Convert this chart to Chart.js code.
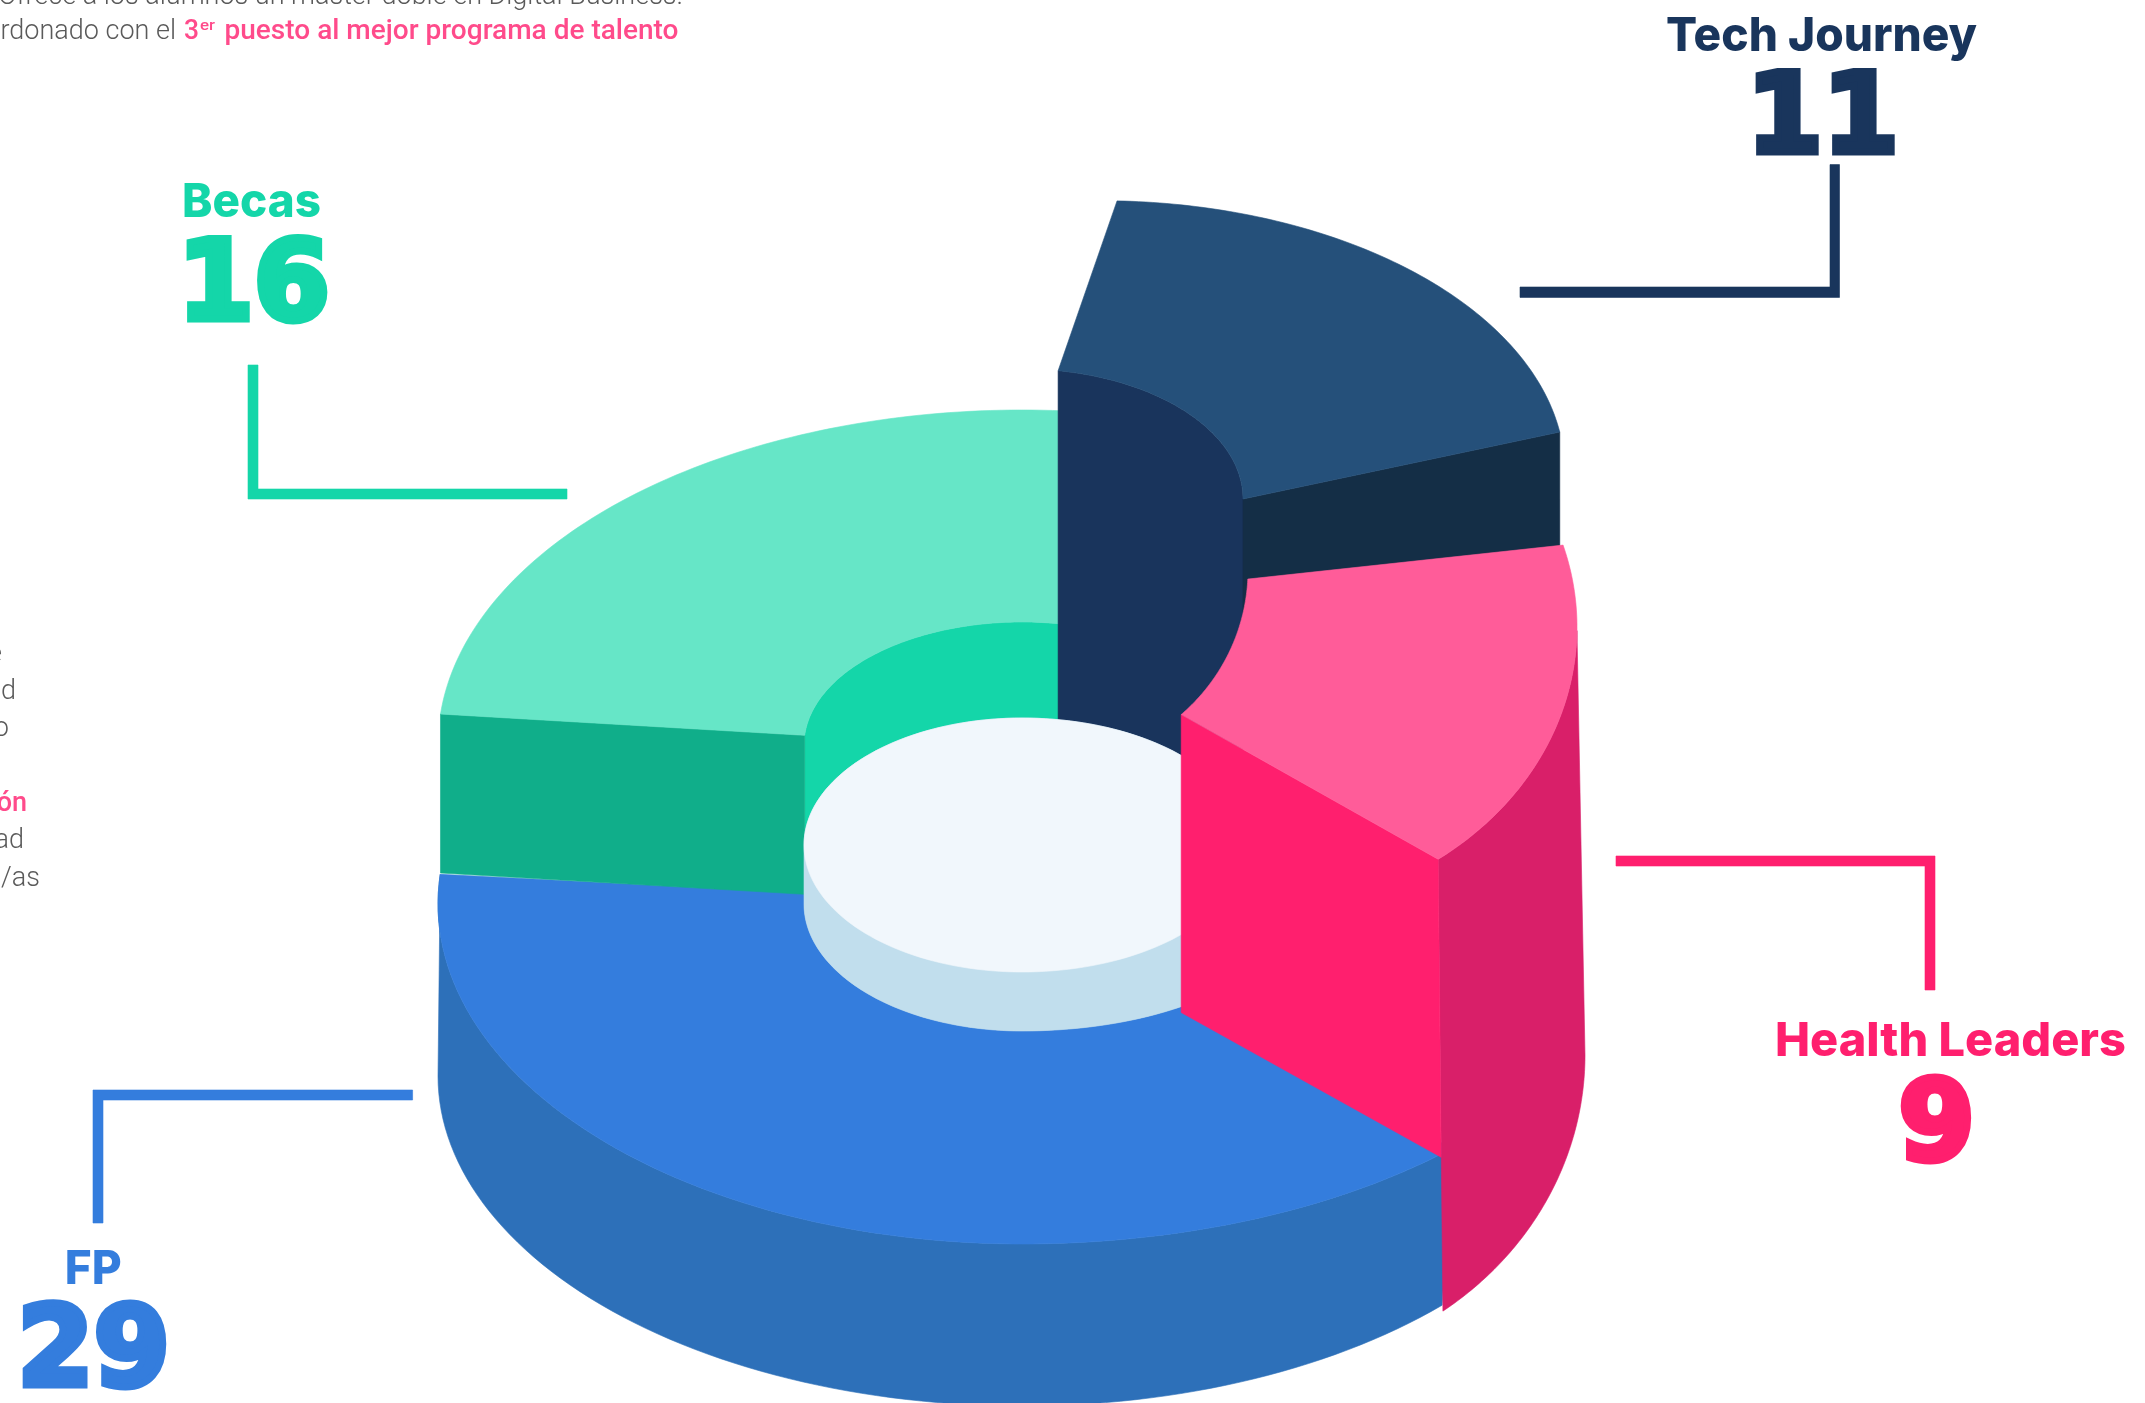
<!DOCTYPE html>
<html lang="es">
<head>
<meta charset="utf-8">
<title>Tech Journey, Health Leaders, FP, Becas</title>
<script src="https://cdn.jsdelivr.net/npm/chart.js@4"></script>
<style>
html,body{margin:0;padding:0;background:#fff;overflow:hidden}
#wrap{position:relative;width:2145px;height:1403px}
</style>
</head>
<body>
<div id="wrap"><canvas id="c" width="2145" height="1403"></canvas></div>
<script>
const categories = ['FP', 'Becas', 'Tech Journey', 'Health Leaders'];
const values = [29, 16, 11, 9];

const palette = [
  {top:'#347DDD', wall:'#2D70B9', label:'#347DDD'},
  {top:'#66E6C7', wall:'#14D6A9', face:'#10AE8A', label:'#14D6A9'},
  {top:'#25507A', wall:'#19345C', face:'#142E46', label:'#19355C'},
  {top:'#FF5C99', wall:'#D91F69', face:'#FF1F6E', label:'#FF1F6E'}
];

/* Isometric projection of each ring sector drawn by the doughnut controller:
   the library supplies each arc's angles, these ellipses project them. */
const projection = [
  {outer:{cx:1022,cy:904,rx:584,ry:340,kR:1.06,t0:46,t1:185},
   inner:{cx:1022,cy:904,rx:218,ry:127,kR:1.24,t0:52,t1:185},
   base:{cx:1022,cy:1076,rx:584,ry:330,t0:44,t1:180}},
  {outer:{cx:1022,cy:745,rx:584,ry:335,t0:185.3,t1:276},
   inner:{cx:1022,cy:745,rx:218,ry:123,t0:184.5,t1:286},
   faceAt:'start', faceDepth:159, innerDepth:159},
  {outer:{cx:1100,cy:472.7,rx:465,ry:272,t0:272.1,t1:351.4},
   inner:{cx:1022,cy:499,rx:221,ry:130,t0:279.4,t1:360},
   faceAt:'end', faceDepth:130, innerDepth:355},
  {outer:{cx:1247,cy:627,rx:330,ry:285,t0:-16.7,t1:54.6},
   inner:{cx:1050,cy:570,rx:198,ry:193,t0:2.7,t1:48.5},
   base:{cx:1245,cy:1055,rx:340,ry:315,t0:0,t1:54.4}, wallFrom:0,
   faceAt:'end', faceDepth:298, faceLean:3}
];
const hub = {
  top:{cx:1022,cy:845,rx:218,ry:127,kR:1.03}, rim:{cx:1022,cy:904,rx:218,ry:127,kR:1.24},
  topColor:'#F1F7FC', rimColor:'#C1DEED'
};
const leaders = [
  [[93,1223],[93,1090],[412.6,1090],[412.6,1100],[103,1100],[103,1223]],
  [[248,365],[258,365],[258,489],[567,489],[567,499],[248,499]],
  [[1520,287],[1830,287],[1830,164.6],[1839.5,164.6],[1839.5,297.4],[1520,297.4]],
  [[1616,856],[1935,856],[1935,990],[1925,990],[1925,866],[1616,866]]
];
const labelBoxes = [
  {name:[66.7,1284,54.3], num:[22,1388,145]},
  {name:[184,217,136], num:[186,322,142]},
  {name:[1667,51,310], num:[1755,155,140]},
  {name:[1777,1056,348], num:[1900,1162,72]}
];

const rad = d => d*Math.PI/180;
function onEllipse(e, deg){
  const c = Math.cos(rad(deg)), s = Math.sin(rad(deg));
  const k = c > 0 ? (e.kR || 1) : 1;
  return [e.cx + e.rx*k*c, e.cy + e.ry*s + (e.sk || 0)*c];
}
function sector(el, e, dy){
  const sweep = el.endAngle - el.startAngle, n = 90, pts = [];
  for(let i=0;i<=n;i++){
    const a = el.startAngle + sweep*i/n;
    const f = (a - el.startAngle)/sweep;
    const p = onEllipse(e, e.t0 + (e.t1-e.t0)*f);
    pts.push([p[0], p[1] + (dy || 0)]);
  }
  return pts;
}
function sectorFrom(el, e, from){
  const pts = sector(el, e, 0), keep = [];
  pts.forEach((p,i)=>{ if(e.t0 + (e.t1-e.t0)*i/(pts.length-1) >= from) keep.push(p); });
  return keep;
}
function fill(ctx, pts, color){
  ctx.beginPath();
  pts.forEach((p,i)=> i ? ctx.lineTo(p[0],p[1]) : ctx.moveTo(p[0],p[1]));
  ctx.closePath();
  ctx.fillStyle = color; ctx.strokeStyle = color; ctx.lineWidth = 0.6;
  ctx.fill(); ctx.stroke();
}
function fitText(ctx, str, x, y, width, font, color){
  ctx.save();
  ctx.font = font; ctx.fillStyle = color; ctx.textAlign = 'left'; ctx.textBaseline = 'alphabetic';
  const w = ctx.measureText(str).width;
  ctx.translate(x, y); ctx.scale(width/w, 1);
  ctx.fillText(str, 0, 0);
  ctx.restore();
}
/* Fits the inked extent of the text to a box; a stroke thickens the digits. */
function fitInk(ctx, str, x, y, width, font, color, weight){
  ctx.save();
  ctx.font = font; ctx.fillStyle = color; ctx.strokeStyle = color; ctx.textAlign = 'left'; ctx.textBaseline = 'alphabetic';
  ctx.lineJoin = 'miter'; ctx.lineWidth = weight || 0;
  const m = ctx.measureText(str);
  const ink = m.actualBoundingBoxRight + m.actualBoundingBoxLeft + (weight || 0);
  const sx = width/ink;
  ctx.translate(x, y - (weight || 0)/2); ctx.scale(sx, 1);
  ctx.translate(m.actualBoundingBoxLeft + (weight || 0)/2, 0);
  ctx.fillText(str, 0, 0);
  if(weight) ctx.strokeText(str, 0, 0);
  ctx.restore();
}
function drawSolid(ctx, els){
  const faceOf = (i) => {
    const P = projection[i], el = els[i];
    const o = sector(el, P.outer), n = sector(el, P.inner);
    const a = P.faceAt === 'start' ? o[0] : o[o.length-1];
    const b = P.faceAt === 'start' ? n[0] : n[n.length-1];
    const d = P.faceDepth;
    fill(ctx, [a,b,[b[0],b[1]+d],[a[0]+(P.faceLean||0),a[1]+d]], palette[i].face);
  };
  const topOf = (i) => {
    const P = projection[i], el = els[i];
    fill(ctx, sector(el,P.outer).concat(sector(el,P.inner).reverse()), palette[i].top);
  };
  const outerWall = (i) => {
    const P = projection[i], el = els[i];
    const up = P.wallFrom !== undefined ? sectorFrom(el,P.outer,P.wallFrom) : sector(el,P.outer);
    fill(ctx, up.concat(sector(el,P.base).reverse()), palette[i].wall);
  };
  const innerWall = (i) => {
    const P = projection[i], el = els[i];
    fill(ctx, sector(el,P.inner).concat(sector(el,P.inner,P.innerDepth).reverse()), palette[i].wall);
  };
  // back to front
  outerWall(0); topOf(0);
  innerWall(1); faceOf(1); topOf(1);
  innerWall(2); faceOf(2); topOf(2);
  // central hub
  const hull = [];
  for(let t=0;t<=180;t+=2) hull.push(onEllipse(hub.rim,t));
  for(let t=180;t<=360;t+=2) hull.push(onEllipse(hub.top,t));
  fill(ctx, hull, hub.rimColor);
  const disk = [];
  for(let t=0;t<360;t+=2) disk.push(onEllipse(hub.top,t));
  fill(ctx, disk, hub.topColor);
  outerWall(3); faceOf(3); topOf(3);
}
function drawAnnotations(ctx){
  categories.forEach((name,i)=>{
    fill(ctx, leaders[i], palette[i].label);
    const B = labelBoxes[i];
    fitInk(ctx, name, B.name[0], B.name[1], B.name[2], '800 47px Inter', palette[i].label);
    fitInk(ctx, String(values[i]), B.num[0], B.num[1], B.num[2], '700 111px "DejaVu Sans"', palette[i].label, 7);
  });
  const gray = '#5A5A5A', pink = '#FF4B8B';
  const light = '300 27px Roboto', strong = '500 27px Roboto';
  ctx.textBaseline = 'alphabetic';
  ctx.textAlign = 'right'; ctx.font = light; ctx.fillStyle = gray;
  ctx.fillText('Ofrece a los alumnos un máster doble en Digital Business.', 683, 4);
  ctx.fillText('Galardonado con el', 176, 39);
  ctx.fillText('e', 2, 662);
  ctx.fillText('ad', 16, 699);
  ctx.fillText('o', 9, 736);
  ctx.fillText('ad', 24, 848);
  ctx.fillText('s/as', 40, 886);
  ctx.font = strong; ctx.fillStyle = pink;
  ctx.fillText('ón', 27, 811);
  fitText(ctx, '3', 184, 39, 15, strong, pink);
  fitText(ctx, 'er', 200, 30, 15, '500 15px Roboto', pink);
  fitText(ctx, 'puesto al mejor programa de talento', 224.5, 39, 454, strong, pink);
}
const isoDoughnut = {
  id:'isoDoughnut',
  beforeDatasetsDraw(chart){
    const els = chart.getDatasetMeta(0).data;
    drawSolid(chart.ctx, els);
    drawAnnotations(chart.ctx);
    return false;
  }
};
new Chart(document.getElementById('c'), {
  type:'doughnut',
  data:{labels:categories, datasets:[{data:values, backgroundColor:palette.map(p=>p.top), borderWidth:0}]},
  options:{
    responsive:false, animation:false, cutout:'37%', events:[],
    layout:{padding:0},
    plugins:{legend:{display:false}, tooltip:{enabled:false}, title:{display:false}}
  },
  plugins:[isoDoughnut]
});
</script>
</body>
</html>
